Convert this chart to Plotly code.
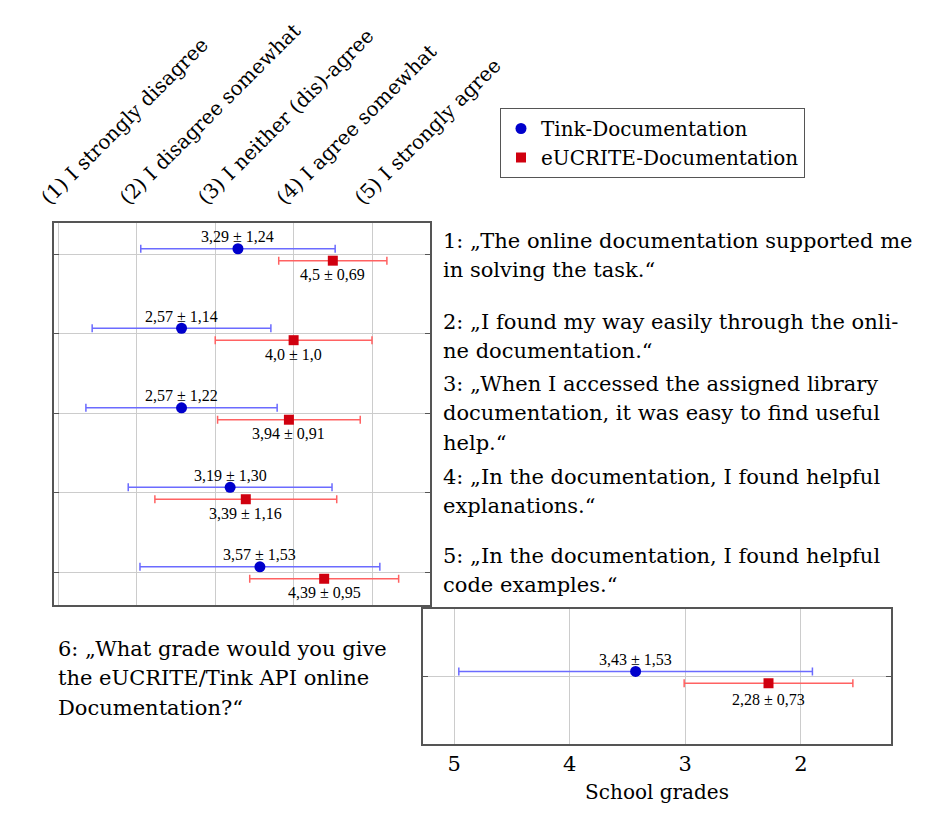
import plotly.graph_objects as go

# ---------------- data ----------------
likert_labels = ["(1) I strongly disagree", "(2) I disagree somewhat",
                 "(3) I neither (dis)-agree", "(4) I agree somewhat",
                 "(5) I strongly agree"]
likert_vals = [1, 2, 3, 4, 5]
questions = [1, 2, 3, 4, 5]
tink_mean = [3.29, 2.57, 2.57, 3.19, 3.57]
tink_sd = [1.24, 1.14, 1.22, 1.30, 1.53]
tink_lbl = ["3,29 ± 1,24", "2,57 ± 1,14", "2,57 ± 1,22", "3,19 ± 1,30", "3,57 ± 1,53"]
euc_mean = [4.5, 4.0, 3.94, 3.39, 4.39]
euc_sd = [0.69, 1.0, 0.91, 1.16, 0.95]
euc_lbl = ["4,5 ± 0,69", "4,0 ± 1,0", "3,94 ± 0,91", "3,39 ± 1,16", "4,39 ± 0,95"]

grade_ticks = [5, 4, 3, 2]
grade_tink_mean = [3.43]
grade_tink_sd = [1.53]
grade_tink_lbl = ["3,43 ± 1,53"]
grade_euc_mean = [2.28]
grade_euc_sd = [0.73]
grade_euc_lbl = ["2,28 ± 0,73"]

series_names = ["Tink-Documentation", "eUCRITE-Documentation"]

question_texts = [
    ["1: „The online documentation supported me", "in solving the task.“"],
    ["2: „I found my way easily through the onli-", "ne documentation.“"],
    ["3: „When I accessed the assigned library", "documentation, it was easy to find useful", "help.“"],
    ["4: „In the documentation, I found helpful", "explanations.“"],
    ["5: „In the documentation, I found helpful", "code examples.“"],
]
grade_question = ["6: „What grade would you give", "the eUCRITE/Tink API online", "Documentation?“"]

# ---------------- style ----------------
W, H = 939, 814
OFF = 8  # page body margin
SERIF = "DejaVu Serif"
NUMF = "Liberation Serif"
BLUE, BLUE_L = "#0000cc", "#6b6bff"
RED, RED_L = "#d0000f", "#ff6262"
FRAME = "#555555"
GRID = "#cccccc"

def px(x):
    return (x - OFF) / W

def py(y):
    return 1 - (y - OFF) / H

fig = go.Figure()

off_b, off_r = -0.07, 0.08
fig.add_trace(go.Scatter(
    x=tink_mean, y=[q + off_b for q in questions], mode="markers", name=series_names[0],
    marker=dict(symbol="circle", size=11, color=BLUE),
    error_x=dict(type="data", array=tink_sd, color=BLUE_L, thickness=1.5, width=4),
    xaxis="x", yaxis="y"))
fig.add_trace(go.Scatter(
    x=euc_mean, y=[q + off_r for q in questions], mode="markers", name=series_names[1],
    marker=dict(symbol="square", size=10, color=RED),
    error_x=dict(type="data", array=euc_sd, color=RED_L, thickness=1.5, width=4),
    xaxis="x", yaxis="y"))

gb, gr = 0.04, -0.047
fig.add_trace(go.Scatter(
    x=grade_tink_mean, y=[gb], mode="markers", name=series_names[0], showlegend=False,
    marker=dict(symbol="circle", size=11, color=BLUE),
    error_x=dict(type="data", array=grade_tink_sd, color=BLUE_L, thickness=1.5, width=4),
    xaxis="x2", yaxis="y2"))
fig.add_trace(go.Scatter(
    x=grade_euc_mean, y=[gr], mode="markers", name=series_names[1], showlegend=False,
    marker=dict(symbol="square", size=10, color=RED),
    error_x=dict(type="data", array=grade_euc_sd, color=RED_L, thickness=1.5, width=4),
    xaxis="x2", yaxis="y2"))

ann = []
for q, m, l in zip(questions, tink_mean, tink_lbl):
    ann.append(dict(x=m, y=q + off_b, xref="x", yref="y", text=l, showarrow=False,
                    yshift=12, font=dict(family=NUMF, size=16, color="black")))
for q, m, l in zip(questions, euc_mean, euc_lbl):
    ann.append(dict(x=m, y=q + off_r, xref="x", yref="y", text=l, showarrow=False,
                    yshift=-14, font=dict(family=NUMF, size=16, color="black")))
ann.append(dict(x=grade_tink_mean[0], y=gb, xref="x2", yref="y2", text=grade_tink_lbl[0],
                showarrow=False, yshift=12, font=dict(family=NUMF, size=16, color="black")))
ann.append(dict(x=grade_euc_mean[0], y=gr, xref="x2", yref="y2", text=grade_euc_lbl[0],
                showarrow=False, yshift=-16, font=dict(family=NUMF, size=16, color="black")))

block_tops = [241, 322, 384, 477, 556]
LS = 29.3
for top, lines in zip(block_tops, question_texts):
    for i, line in enumerate(lines):
        ann.append(dict(x=px(441), y=py(top + i * LS), xref="paper", yref="paper",
                        xanchor="left", yanchor="middle", text=line, showarrow=False,
                        font=dict(family=SERIF, size=21, color="black")))
for i, line in enumerate(grade_question):
    ann.append(dict(x=px(56), y=py(649 + i * LS), xref="paper", yref="paper",
                    xanchor="left", yanchor="middle", text=line, showarrow=False,
                    font=dict(family=SERIF, size=21, color="black")))

fig.update_layout(
    width=W, height=H, margin=dict(l=0, r=0, t=0, b=0, autoexpand=False),
    paper_bgcolor="white", plot_bgcolor="white",
    font=dict(family=SERIF, size=20, color="black"),
    xaxis=dict(domain=[px(54), px(430)], range=[0.943, 5.74], side="top",
               tickvals=likert_vals, ticktext=likert_labels, tickangle=-45,
               ticklabelshift=-16, ticklabelstandoff=4, automargin=False,
               tickfont=dict(family=SERIF, size=20),
               showgrid=True, gridcolor=GRID, gridwidth=1, zeroline=False,
               showline=True, mirror=True, linecolor=FRAME, linewidth=1.5,
               ticks="", anchor="y"),
    yaxis=dict(domain=[py(605), py(222.5)], range=[5.41, 0.6], tickvals=questions,
               showticklabels=False, showgrid=True, gridcolor=GRID, gridwidth=1,
               zeroline=False, showline=True, mirror="ticks", linecolor=FRAME,
               linewidth=1.5, ticks="inside", ticklen=5, tickcolor=FRAME, anchor="x",
               automargin=False),
    xaxis2=dict(domain=[px(423), px(891)], range=[5.27, 1.22], tickvals=grade_ticks,
                tickfont=dict(family=SERIF, size=21), automargin=False,
                title=dict(text="School grades", font=dict(family=SERIF, size=20), standoff=10),
                showgrid=True, gridcolor=GRID, gridwidth=1, zeroline=False,
                showline=True, mirror=True, linecolor=FRAME, linewidth=1.5,
                ticks="", anchor="y2"),
    yaxis2=dict(domain=[py(744.3), py(609.3)], range=[-0.5, 0.5], tickvals=[0],
                showticklabels=False, showgrid=True, gridcolor=GRID, gridwidth=1,
                zeroline=False, showline=True, mirror="ticks", linecolor=FRAME,
                linewidth=1.5, ticks="inside", ticklen=5, tickcolor=FRAME, anchor="x2",
                automargin=False),
    legend=dict(x=px(500), y=py(108), xanchor="left", yanchor="top",
                bgcolor="white", bordercolor=FRAME, borderwidth=1,
                font=dict(family=SERIF, size=20), tracegroupgap=0, itemwidth=30),
    annotations=ann,
)

fig.write_html("out.html")
